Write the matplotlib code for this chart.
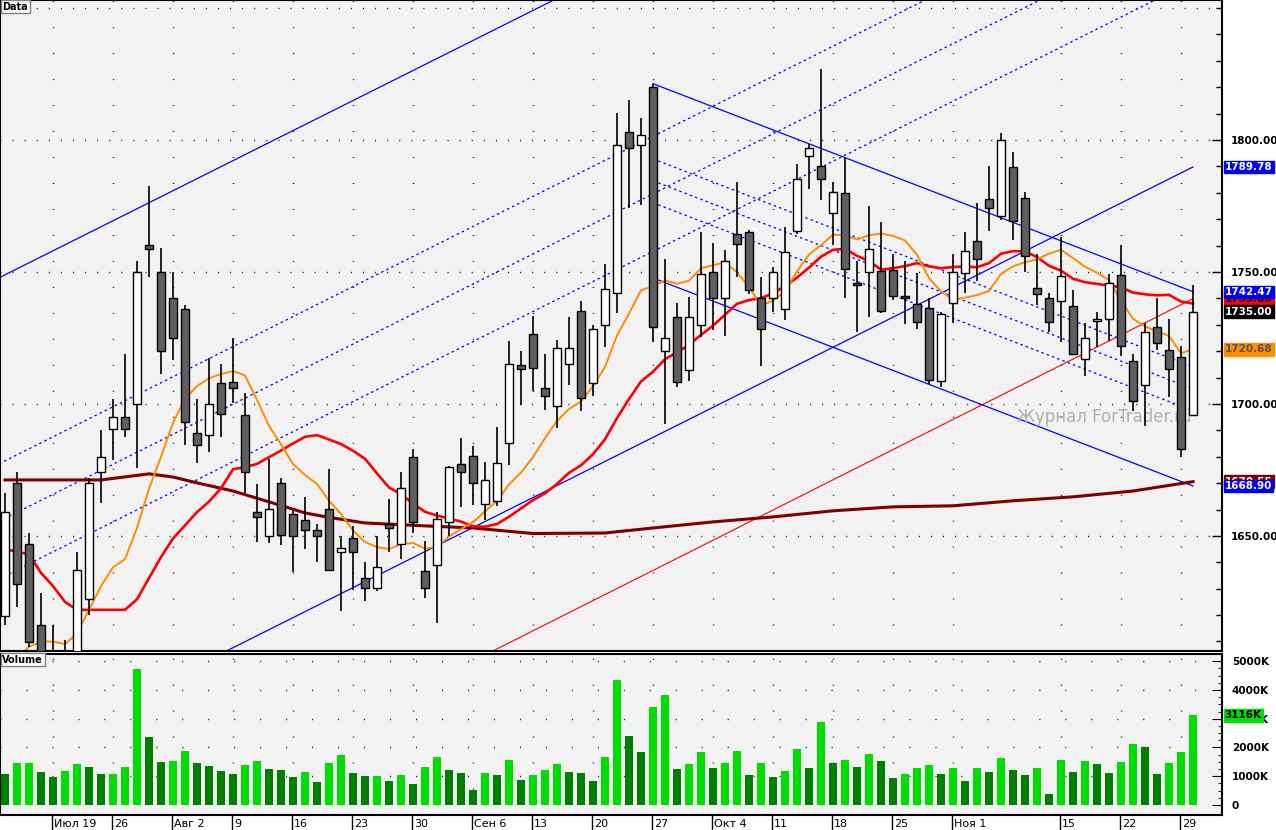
import numpy as np
import pandas as pd
import matplotlib
matplotlib.use("Agg")
import matplotlib.pyplot as plt
from matplotlib.transforms import blended_transform_factory

# --- daily OHLC ---
opens = [1619.7, 1670.1, 1647.0, 1616.3, 1600.0, 1598.0, 1600.0, 1626.1, 1674.2, 1690.5,
         1695.1, 1700.0, 1760.2, 1750.0, 1740.2, 1736.0, 1689.0, 1688.3, 1708.0, 1708.3,
         1695.8, 1659.1, 1650.0, 1670.1, 1658.3, 1655.9, 1652.1, 1660.2, 1643.9, 1649.2,
         1634.1, 1630.3, 1654.5, 1647.0, 1679.7, 1636.7, 1639.0, 1655.3, 1677.3, 1680.3,
         1662.1, 1663.3, 1685.2, 1714.8, 1726.5, 1706.1, 1699.2, 1715.2, 1735.2, 1708.0,
         1729.9, 1742.0, 1803.0, 1798.1, 1820.1, 1720.1, 1733.0, 1712.9, 1729.9, 1750.0,
         1740.2, 1764.4, 1765.2, 1740.2, 1740.2, 1736.0, 1765.5, 1793.9, 1790.2, 1772.3,
         1779.9, 1745.8, 1750.0, 1750.4, 1750.8, 1740.9, 1737.9, 1736.4, 1708.7, 1738.3,
         1749.6, 1761.7, 1777.7, 1771.2, 1789.8, 1778.0, 1743.9, 1740.2, 1739.0, 1737.1,
         1717.0, 1731.4, 1732.2, 1748.9, 1716.3, 1707.2, 1729.2, 1720.5, 1717.8, 1695.8]
highs = [1666.3, 1674.2, 1651.1, 1628.4, 1616.3, 1610.6, 1643.9, 1672.0, 1690.2, 1701.9,
         1718.9, 1754.2, 1782.6, 1759.1, 1750.0, 1737.5, 1701.9, 1717.4, 1715.2, 1725.0,
         1704.2, 1669.7, 1679.2, 1672.0, 1659.5, 1664.8, 1654.5, 1675.4, 1650.0, 1653.8,
         1640.2, 1650.0, 1664.0, 1674.2, 1683.0, 1648.1, 1659.1, 1676.5, 1687.1, 1684.1,
         1678.0, 1691.3, 1723.9, 1720.1, 1733.3, 1718.9, 1724.2, 1732.8, 1739.0, 1730.0,
         1753.0, 1810.2, 1815.2, 1808.3, 1821.0, 1754.9, 1738.3, 1740.5, 1765.2, 1761.0,
         1758.3, 1784.1, 1766.0, 1748.1, 1751.9, 1767.0, 1790.9, 1798.5, 1826.9, 1784.1,
         1793.2, 1754.2, 1775.0, 1768.9, 1756.8, 1754.2, 1749.6, 1740.2, 1734.8, 1756.8,
         1765.2, 1776.1, 1790.2, 1802.7, 1795.5, 1780.3, 1756.8, 1742.0, 1763.3, 1743.2,
         1730.7, 1734.8, 1749.2, 1760.2, 1718.9, 1730.7, 1740.2, 1732.2, 1722.0, 1745.1]
lows = [1616.3, 1623.1, 1608.0, 1595.0, 1590.0, 1592.0, 1597.0, 1620.1, 1662.5, 1678.8,
        1687.5, 1675.8, 1748.1, 1711.4, 1716.7, 1684.5, 1677.7, 1681.8, 1687.5, 1700.4,
        1666.3, 1647.7, 1647.3, 1646.6, 1636.4, 1645.2, 1640.2, 1637.1, 1621.6, 1629.5,
        1625.4, 1629.2, 1643.9, 1641.4, 1651.1, 1626.3, 1617.0, 1650.0, 1661.0, 1661.7,
        1656.1, 1661.5, 1676.9, 1699.6, 1704.9, 1697.7, 1690.9, 1707.2, 1697.3, 1703.0,
        1721.6, 1734.5, 1774.2, 1775.4, 1723.5, 1692.4, 1706.4, 1708.7, 1725.4, 1728.0,
        1725.8, 1748.1, 1741.7, 1714.4, 1734.8, 1731.8, 1764.4, 1781.4, 1777.3, 1760.2,
        1740.2, 1727.3, 1733.0, 1734.5, 1739.4, 1730.3, 1728.4, 1707.6, 1706.4, 1730.7,
        1742.0, 1746.6, 1765.5, 1769.7, 1762.1, 1750.0, 1737.5, 1727.3, 1723.5, 1718.9,
        1710.6, 1721.6, 1723.9, 1718.2, 1697.3, 1691.7, 1720.5, 1702.7, 1679.9, 1695.8]
closes = [1659.1, 1631.8, 1609.8, 1600.0, 1596.0, 1602.0, 1637.0, 1670.1, 1679.9, 1695.1,
          1690.5, 1750.0, 1758.7, 1720.1, 1725.0, 1693.2, 1684.5, 1700.0, 1696.2, 1706.1,
          1674.2, 1657.2, 1660.2, 1650.4, 1650.0, 1652.1, 1649.9, 1637.1, 1645.6, 1643.9,
          1630.3, 1638.1, 1653.0, 1668.2, 1655.3, 1630.3, 1656.4, 1676.0, 1674.2, 1670.1,
          1671.2, 1677.8, 1715.2, 1713.3, 1713.6, 1703.0, 1721.2, 1721.2, 1702.3, 1728.4,
          1743.6, 1798.1, 1797.0, 1801.9, 1729.2, 1725.0, 1708.3, 1733.0, 1749.2, 1740.2,
          1754.2, 1760.6, 1743.2, 1728.4, 1750.0, 1757.6, 1785.2, 1797.0, 1785.2, 1780.3,
          1751.1, 1745.1, 1758.7, 1735.2, 1740.9, 1740.2, 1731.1, 1709.1, 1734.1, 1750.0,
          1758.0, 1754.9, 1774.2, 1800.0, 1769.3, 1756.1, 1741.7, 1731.1, 1748.5, 1718.9,
          1725.0, 1732.2, 1745.8, 1722.0, 1701.1, 1727.3, 1723.1, 1713.3, 1683.0, 1735.0]
volumes_k = [1081, 1465, 1465, 1151, 977, 1186, 1430, 1326, 1081, 1081,
             1326, 4744, 2372, 1500, 1535, 1884, 1465, 1360, 1186, 1081,
             1395, 1535, 1256, 1221, 977, 1151, 802, 1465, 1744, 1116,
             1012, 1012, 837, 1047, 733, 1326, 1674, 1221, 1116, 523,
             1116, 1047, 1570, 872, 1047, 1221, 1430, 1151, 1116, 837,
             1674, 4360, 2407, 1849, 3419, 3837, 1256, 1430, 1849, 1291,
             1465, 1884, 1047, 1465, 977, 1186, 1953, 1291, 2895, 1465,
             1570, 1326, 1779, 1535, 942, 1081, 1291, 1395, 1081, 1291,
             837, 1291, 1151, 1640, 1221, 1047, 1291, 384, 1570, 1151,
             1535, 1430, 1116, 1500, 2128, 2023, 1081, 1465, 1849, 3116]

orange_head = [1600, 1604, 1608, 1610, 1610, 1609, 1613, 1622, 1631]
red_head = [1645, 1644, 1643, 1636, 1631, 1625, 1622, 1622, 1622, 1622,
            1622, 1626, 1634, 1642, 1649, 1654, 1659, 1663, 1668]
maroon_idx = [0, 8, 12, 14, 16, 19, 22, 25, 27, 30, 35, 39, 44, 50, 54, 59, 64, 69, 74, 79, 84, 89, 94, 99]
maroon_val = [1671.2, 1671.2, 1673.5, 1672.3, 1670.1, 1667.0, 1662.9, 1658.7, 1657.0, 1654.9,
              1653.8, 1653.0, 1650.9, 1651.1, 1653.0, 1655.3, 1657.2, 1659.5, 1661.0, 1661.4,
              1663.3, 1664.8, 1667.0, 1670.55]

# trend channels (bar index anchors, prices)
up_center = [-0.5, 99]
up_center_p = [1655.5, 1882.0]
up_offsets = [92.25, 21.8, 0.0, -21.8, -92.25]
red_line_i = [40, 99]
red_line_p = [1604.9, 1739.85]
dn_center = [54, 99]
dn_center_p = [1784.5, 1705.7]
dn_offsets = [36.8, 8.3, 0.0, -8.3, -36.8]

date_idx = [4, 9, 14, 19, 24, 29, 34, 39, 44, 49, 54, 59, 64, 69, 74, 79, 88, 93, 98]
date_lbl = ["Июл 19", "26", "Авг 2", "9", "16", "23", "30", "Сен 6", "13", "20", "27",
            "Окт 4", "11", "18", "25", "Ноя 1", "15", "22", "29"]

o, h, l, c = map(np.array, (opens, highs, lows, closes))
n = len(c)
x = np.arange(n)
cs = pd.Series(c)
orange = cs.rolling(10).mean().to_numpy()
orange[:9] = orange_head
red = cs.rolling(20).mean().to_numpy()
red[:19] = red_head

W, H = 1276, 830
fig = plt.figure(figsize=(W / 100, H / 100), dpi=100, facecolor="white")
ax = fig.add_axes([0, (H - 651) / H, 1222 / W, 651 / H], facecolor="#f2f2f2")
axv = fig.add_axes([0, (H - 815) / H, 1222 / W, 161 / H], facecolor="#f2f2f2")
xlim = (-5 / 12, 1217 / 12)
for a in (ax, axv):
    a.set_xlim(*xlim)
    for s in a.spines.values():
        s.set_linewidth(1.5)
ax.set_ylim(1606.4, 1853.0)
axv.set_ylim(-348, 5226)

# grids
for i in date_idx:
    ax.axvline(i, color="black", lw=1, ls=(0, (0.7, 18)), zorder=0)
    axv.axvline(i, color="black", lw=1, ls=(0, (0.7, 18)), zorder=0)
for p in range(1650, 1851, 50):
    ax.axhline(p, color="black", lw=1, ls=(0, (0.7, 8)), zorder=0)
for v in range(1000, 6000, 1000):
    axv.axhline(v, color="black", lw=1, ls=(0, (0.7, 18)), zorder=0)

# channels
ci = np.array(up_center)
for off in up_offsets:
    ls = "-" if abs(off) > 50 else (0, (2, 2.5))
    ax.plot(ci, np.array(up_center_p) - off, color="#0000ff", lw=0.9, ls=ls, zorder=1)
ax.plot(red_line_i, red_line_p, color="#ff0000", lw=0.8, zorder=1)
di = np.array(dn_center)
for off in dn_offsets:
    ls = "-" if abs(off) > 20 else (0, (2, 2.5))
    ax.plot(di, np.array(dn_center_p) + off, color="#0000ff", lw=0.9, ls=ls, zorder=1)

# moving averages
ax.plot(maroon_idx, maroon_val, color="#800000", lw=2.2, zorder=2)
ax.plot(x, red, color="#ff0000", lw=1.9, zorder=2)
ax.plot(x, orange, color="#ff8c00", lw=1.4, zorder=2)

# candles
up = c >= o
ax.vlines(x, l, h, color="black", lw=1.2, zorder=3)
body_lo = np.minimum(o, c)
body_h = np.maximum(np.abs(c - o), 0.6)
ax.bar(x, body_h, bottom=body_lo, width=0.67,
       color=np.where(up, "white", "#5f5f5f"), edgecolor="black", linewidth=1, zorder=4)

# volume
vol = np.array(volumes_k)
rising = np.r_[False, vol[1:] >= vol[:-1]]
axv.bar(x, vol, width=0.6, color=np.where(rising, "#00dd00", "#008000"), zorder=2)

# axes ticks
ax.yaxis.tick_right()
ax.set_yticks([1650, 1700, 1750, 1800])
ax.set_yticks(np.arange(1610, 1860, 10), minor=True)
ax.set_yticklabels(["1650.00", "1700.00", "1750.00", "1800.00"], fontsize=7.5, fontweight="bold")
ax.tick_params(axis="y", which="major", direction="in", length=7, pad=6, width=1)
ax.tick_params(axis="y", which="minor", direction="in", length=4, width=1)
ax.set_xticks([])
axv.yaxis.tick_right()
axv.set_yticks(range(0, 6000, 1000))
axv.set_yticklabels(["0"] + [f"{k}000K" for k in range(1, 6)], fontsize=7.5, fontweight="bold")
axv.set_yticks(range(0, 5500, 250), minor=True)
axv.tick_params(axis="y", which="major", direction="in", length=7, pad=7)
axv.tick_params(axis="y", which="minor", direction="in", length=3)
axv.set_xticks(np.array(date_idx) - 0.05)
axv.set_xticklabels([])
axv.tick_params(axis="x", direction="out", length=11, width=1)
tr = blended_transform_factory(axv.transData, axv.transAxes)
for i, s in zip(date_idx, date_lbl):
    axv.text(i + 0.1, -0.025, s, transform=tr, ha="left", va="top", fontsize=8)

# right-side value boxes
def tag(a, val, txt, bg, fg):
    a.annotate(txt, xy=(1.0, val), xycoords=("axes fraction", "data"), xytext=(2, 0),
               textcoords="offset points", ha="left", va="center", fontsize=7.5,
               fontweight="bold", color=fg, annotation_clip=False,
               bbox=dict(boxstyle="square,pad=0.12", fc=bg, ec=bg))

tag(ax, 1789.78, "1789.78", "#0000ff", "white")
tag(ax, 1670.55, "1670.55", "#800000", "white")
tag(ax, 1668.90, "1668.90", "#0000ff", "white")
tag(ax, 1720.68, "1720.68", "#ff8c00", "#555555")
tag(ax, 1739.85, "1739.85", "#ff0000", "black")
tag(ax, 1742.47, "1742.47", "#0000ff", "white")
tag(ax, 1735.00, "1735.00", "black", "white")
tag(axv, volumes_k[-1], f"{volumes_k[-1]}K", "#00dd00", "black")

# panel labels and watermark
ax.text(0.002, 0.997, "Data", transform=ax.transAxes, ha="left", va="top", fontsize=7,
        fontweight="bold", bbox=dict(boxstyle="square,pad=0.15", fc="white", ec="gray"))
axv.text(0.002, 0.995, "Volume", transform=axv.transAxes, ha="left", va="top", fontsize=7,
         fontweight="bold", bbox=dict(boxstyle="square,pad=0.15", fc="white", ec="gray"))
ax.text(0.975, 0.36, "Журнал ForTrader.ru", transform=ax.transAxes, ha="right", va="center",
        fontsize=12, color="#b0b0b0", zorder=1)

fig.savefig("out.png", dpi=100, facecolor="white")
